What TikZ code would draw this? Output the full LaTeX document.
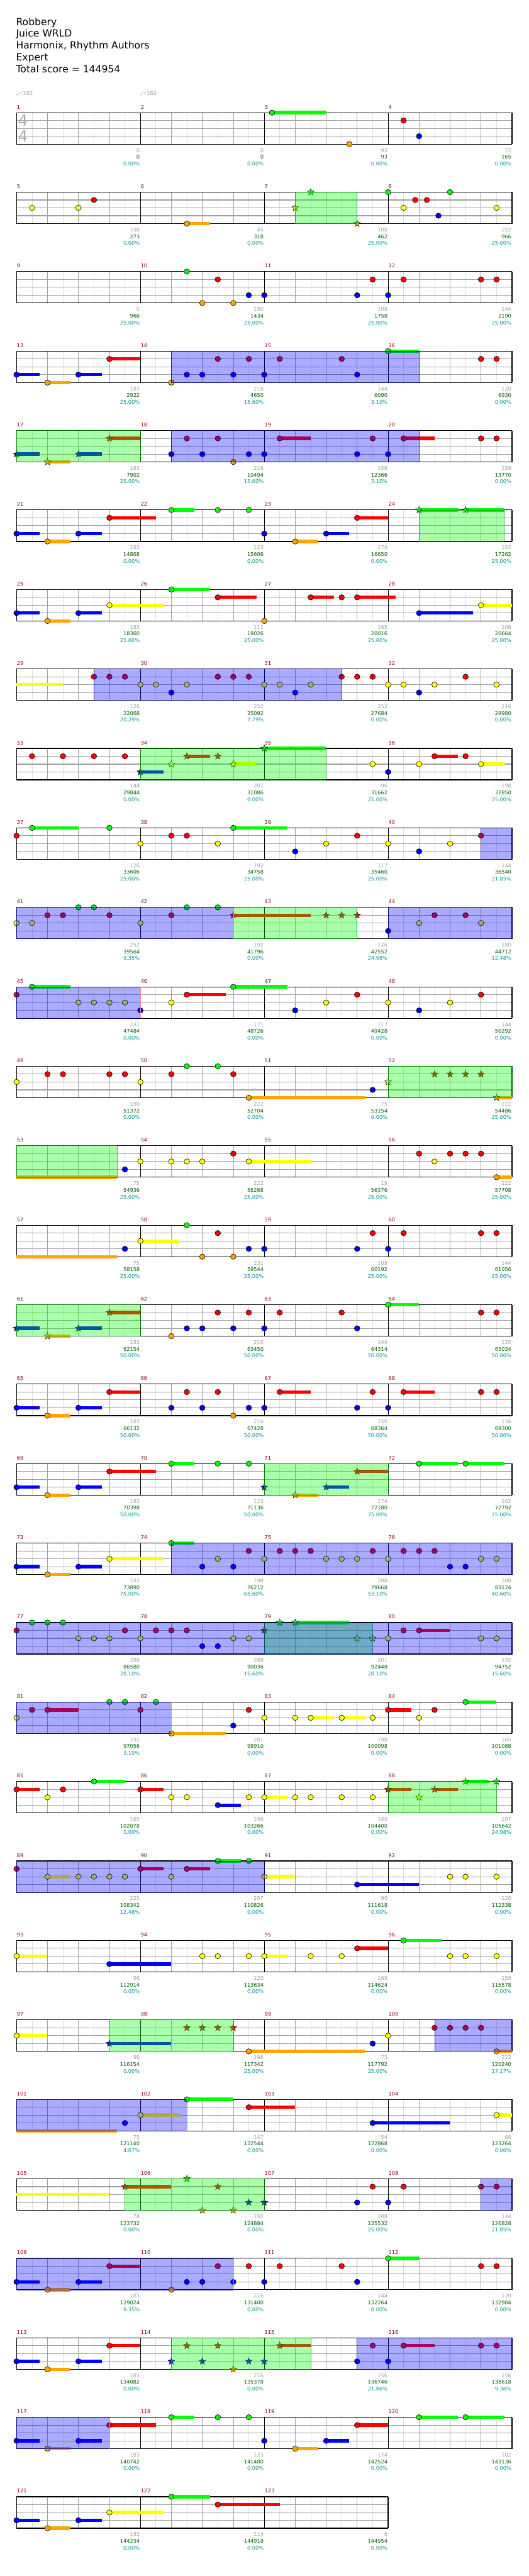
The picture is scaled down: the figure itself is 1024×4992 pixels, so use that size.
\documentclass[tikz,border=0pt]{standalone}
\usepackage{fontspec}
\setmainfont{DejaVu Sans}
\usetikzlibrary{shapes.geometric}
\definecolor{cG}{RGB}{0,255,0}
\definecolor{cR}{RGB}{255,0,0}
\definecolor{cY}{RGB}{255,255,0}
\definecolor{cB}{RGB}{0,0,255}
\definecolor{cO}{RGB}{255,165,0}
\definecolor{mred}{RGB}{139,0,0}
\definecolor{cgray}{RGB}{160,160,160}
\definecolor{cgreen}{RGB}{0,100,0}
\definecolor{cteal}{RGB}{0,150,150}
\definecolor{ltgray}{RGB}{222,222,222}
\definecolor{midgray}{RGB}{160,160,160}
\definecolor{tsgray}{RGB}{170,170,170}
\definecolor{gborder}{RGB}{0,150,0}
\definecolor{bborder}{RGB}{0,0,120}
\definecolor{pinkc}{RGB}{255,140,140}
\tikzset{
 notest/.style={draw=black,line width=0.7pt},
 starst/.style={star,star points=5,star point ratio=2.4,minimum size=14pt,inner sep=0pt,draw=black,line width=0.5pt},
 eline/.style={draw=ltgray,line width=0.8pt},
 qline/.style={draw=midgray,line width=0.9pt},
 lline/.style={draw=midgray,line width=1.3pt},
 mline/.style={draw=black,line width=0.8pt},
 fline/.style={draw=black,line width=1.4pt},
 greg/.style={fill=cG,fill opacity=0.3333,draw=gborder,draw opacity=0.7,line width=0.8pt},
 breg/.style={fill=cB,fill opacity=0.3333,draw=bborder,draw opacity=0.7,line width=0.8pt},
 pinkl/.style={draw=pinkc,line width=0.8pt},
 lab/.style={anchor=base east,inner sep=0pt,font=\fontsize{10}{12}\selectfont},
 mnum/.style={anchor=base west,inner sep=0pt,font=\fontsize{10}{12}\selectfont,text=mred},
 ttl/.style={anchor=base west,inner sep=0pt,font=\fontsize{19}{23}\selectfont},
 tempo/.style={anchor=base west,inner sep=0pt,text=cgray,font=\fontsize{10}{12}\selectfont},
 tsig/.style={inner sep=0pt,text=tsgray,font=\fontsize{30}{30}\selectfont},
}
\newcommand\NoteA[3]{\filldraw[notest,fill=#3] (#1,#2) ellipse[x radius=5.4pt,y radius=5.2pt];}
\newcommand\BarA[4]{\fill[#4] ([yshift=3.25pt]#1,#3) rectangle ([yshift=-3.25pt]#2,#3);}
\newcommand\StarA[3]{\node[starst,fill=#3] at (#1,#2) {};}
\newcommand\MkLane[3]{%
 \expandafter\newcommand\csname #1n\endcsname[1]{\NoteA{##1}{#2}{#3}}%
 \expandafter\newcommand\csname #1s\endcsname[2]{\BarA{##1}{##2}{#2}{#3}\NoteA{##1}{#2}{#3}}%
 \expandafter\newcommand\csname #1t\endcsname[1]{\StarA{##1}{#2}{#3}}%
 \expandafter\newcommand\csname #1u\endcsname[2]{\BarA{##1}{##2}{#2}{#3}\StarA{##1}{#2}{#3}}%
 \expandafter\newcommand\csname #1c\endcsname[2]{\BarA{##1}{##2}{#2}{#3}}%
}
\MkLane{G}{0}{cG}
\MkLane{R}{1}{cR}
\MkLane{Y}{2}{cY}
\MkLane{B}{3}{cB}
\MkLane{O}{4}{cO}
\newcommand\GR[2]{\filldraw[greg] (#1,0) rectangle (#2,4);}
\newcommand\BR[2]{\filldraw[breg] (#1,0) rectangle (#2,4);}
\newcommand\PK[1]{\draw[pinkl] (#1,0)--(#1,4);}
\newcommand\RowBegin[3]{%
 \pgfmathsetmacro\rowT{-218.3-154*(#1-1)}%
 \begin{scope}[shift={(32pt,\rowT pt)},x=30pt,y=-15.25pt]
 \pgfmathtruncatemacro\NE{8*#2}%
 \pgfmathtruncatemacro\NEm{8*#2-1}%
 \pgfmathtruncatemacro\NM{#2-1}%
 \foreach \i in {1,3,...,\NEm} \draw[eline] (\i,0)--(\i,4);
 \foreach \i in {2,4,...,\NE} \draw[qline] (\i,0)--(\i,4);
 \foreach \l in {1,2,3} \draw[lline] (0,\l)--(\NE,\l);
 \foreach \i in {0,8,...,\NE} \draw[mline] (\i,0)--(\i,4);
 \draw[fline] (0,0)--(\NE,0) (0,4)--(\NE,4) (0,0)--(0,4) (\NE,0)--(\NE,4);
 \foreach \j in {0,...,\NM} {\pgfmathtruncatemacro\mm{#3+\j}\node[mnum] at ([xshift=0.5pt,yshift=7.3pt]{8*\j},0) {\mm};}
}
\newcommand\RowEnd{\end{scope}}
\newcommand\Lb[4]{%
 \node[lab,text=cgray] at ([xshift=-1pt,yshift=-76.7pt]{8*#1},0) {#2};
 \node[lab,text=cgreen] at ([xshift=-1pt,yshift=-89.7pt]{8*#1},0) {#3};
 \node[lab,text=cteal] at ([xshift=-1pt,yshift=-102.7pt]{8*#1},0) {#4};}
\begin{document}
\begin{tikzpicture}
\path[use as bounding box] (0pt,0pt) rectangle (1024pt,-4992pt);
\node[ttl] (t1) at (31pt,-49pt) {Robbery};
\node[ttl] (t2) at (31pt,-71.9pt) {Juice WRLD};
\node[ttl] (t3) at (31pt,-94.8pt) {Harmonix, Rhythm Authors};
\node[ttl] (t4) at (31pt,-117.7pt) {Expert};
\node[ttl] (t5) at (31pt,-140.6pt) {Total score = 144954};
\node[tempo] (tp1) at (31pt,-184.7pt) {♩=160};
\node[tempo] (tp2) at (271pt,-184.7pt) {♩=160};
% row 1
\RowBegin{1}{4}{1}
\node[tsig] (ts1) at ([xshift=12.4pt,yshift=-15.5pt]0,0) {4};
\node[tsig] (ts2) at ([xshift=12.4pt,yshift=-45.5pt]0,0) {4};
\Gs{16.5}{20} \On{21.5} \Rn{25} \Bn{26}
\Lb{1}{0}{0}{0.00\%}\Lb{2}{0}{0}{0.00\%}\Lb{3}{93}{93}{0.00\%}\Lb{4}{72}{165}{0.00\%}
\RowEnd
% row 2
\RowBegin{2}{4}{5}
\Yn{1} \Yn{4} \Rn{5} \Os{11}{12.5}
\Yt{18} \Gt{19} \Ot{22}
\Gn{24} \Yn{25} \Rn{25.75} \Rn{26.5} \Bn{27.25} \Gn{28} \Yn{31}
\GR{18}{22}
\Lb{1}{108}{273}{0.00\%}\Lb{2}{45}{318}{0.00\%}\Lb{3}{108}{462}{25.00\%}\Lb{4}{252}{966}{25.00\%}
\RowEnd
% row 3
\RowBegin{3}{4}{9}
\Gn{11} \On{12} \Rn{13} \On{14} \Bn{15} \Bn{16} \Bn{22} \Rn{23} \Bn{24} \Rn{25} \Rn{30} \Rn{31}
\Lb{1}{0}{966}{25.00\%}\Lb{2}{180}{1434}{25.00\%}\Lb{3}{108}{1758}{25.00\%}\Lb{4}{144}{2190}{25.00\%}
\RowEnd
% row 4
\RowBegin{4}{4}{13}
\Bs{0}{1.5} \Os{2}{3.5} \Bs{4}{5.5} \Rs{6}{8}
\On{10} \Bn{11} \Bn{12} \Rn{13} \Bn{14} \Rn{15} \Bn{16} \Rn{17} \Rn{21} \Bn{22} \Gs{24}{26} \Rn{30} \Rn{31}
\BR{10}{26}
\Lb{1}{183}{2922}{25.00\%}\Lb{2}{216}{4650}{15.60\%}\Lb{3}{144}{6090}{3.10\%}\Lb{4}{120}{6930}{0.00\%}
\RowEnd
% row 5
\RowBegin{5}{4}{17}
\Bu{0}{1.5} \Ou{2}{3.5} \Bu{4}{5.5} \Ru{6}{8}
\Bn{10} \Rn{11} \Bn{12} \Rn{13} \On{14} \Bn{15} \Bn{16} \Rs{17}{19} \Bn{22} \Rn{23} \Bn{24} \Rs{25}{27} \Rn{30} \Rn{31}
\GR{0}{8} \BR{10}{26}
\Lb{1}{183}{7902}{25.00\%}\Lb{2}{216}{10494}{15.60\%}\Lb{3}{156}{12366}{3.10\%}\Lb{4}{156}{13770}{0.00\%}
\RowEnd
% row 6
\RowBegin{6}{4}{21}
\Bs{0}{1.5} \Os{2}{3.5} \Bs{4}{5.5} \Rs{6}{9}
\Gs{10}{11.5} \Gn{13} \Gn{15} \Bn{16} \Os{18}{19.5} \Bs{20}{21.5} \Rs{22}{24}
\Gu{26}{28.5} \Gu{29}{31.5}
\GR{26}{31.5}
\Lb{1}{183}{14868}{0.00\%}\Lb{2}{123}{15606}{0.00\%}\Lb{3}{174}{16650}{0.00\%}\Lb{4}{102}{17262}{25.00\%}
\RowEnd
% row 7
\RowBegin{7}{4}{25}
\Bs{0}{1.5} \Os{2}{3.5} \Bs{4}{5.5} \Ys{6}{9.5}
\Gs{10}{12.5} \Rs{13}{15.5} \On{16} \Rs{19}{20.5} \Rn{21} \Rs{22}{24.5} \Bs{26}{29.5} \Ys{30}{32}
\Lb{1}{183}{18360}{25.00\%}\Lb{2}{111}{19026}{25.00\%}\Lb{3}{165}{20016}{25.00\%}\Lb{4}{108}{20664}{25.00\%}
\RowEnd
% row 8
\RowBegin{8}{4}{29}
\Yc{0}{3}
\Rn{5} \Rn{6} \Rn{7} \Yn{8} \Yn{9} \Bn{10} \Yn{11} \Rn{13} \Rn{14} \Rn{15} \Yn{16} \Yn{17} \Bn{18} \Yn{19} \Rn{21} \Rn{22} \Rn{23} \Yn{24} \Yn{25} \Bn{26} \Yn{27} \Rn{29} \Yn{31}
\BR{5}{21}
\Lb{1}{126}{22068}{20.29\%}\Lb{2}{252}{25092}{7.79\%}\Lb{3}{252}{27684}{0.00\%}\Lb{4}{216}{28980}{0.00\%}
\RowEnd
% row 9
\RowBegin{9}{4}{33}
\Rn{1} \Rn{3} \Rn{5} \Rn{7}
\Bu{8}{9.5} \Yt{10} \Ru{11}{12.5} \Rt{13} \Yu{14}{15.5} \Gu{16}{20}
\Yn{23} \Bn{24} \Yn{26} \Rs{27}{28.5} \Rn{29} \Ys{30}{31.5}
\GR{8}{20}
\Lb{1}{144}{29844}{0.00\%}\Lb{2}{207}{31086}{0.00\%}\Lb{3}{96}{31662}{25.00\%}\Lb{4}{198}{32850}{25.00\%}
\RowEnd
% row 10
\RowBegin{10}{4}{37}
\Rn{0} \Gs{1}{4} \Gn{6} \Yn{8} \Rn{10} \Rn{11} \Yn{13} \Gs{14}{17.5} \Bn{18} \Yn{20} \Rn{22} \Yn{24} \Bn{26} \Yn{28} \Rn{30}
\BR{30}{32}
\Lb{1}{126}{33606}{25.00\%}\Lb{2}{192}{34758}{25.00\%}\Lb{3}{117}{35460}{25.00\%}\Lb{4}{144}{36540}{21.85\%}
\RowEnd
% row 11
\RowBegin{11}{4}{41}
\Yn{0} \Yn{1} \Rn{2} \Rn{3} \Gn{4} \Gn{5} \Rn{6} \Yn{8} \Rn{10} \Gn{11} \Gn{13}
\Ru{14}{19} \Rt{20} \Rt{21} \Rt{22}
\Bn{24} \Yn{26} \Rn{27} \Rn{29} \Yn{30}
\GR{14}{22} \BR{0}{14} \BR{24}{32} \PK{14}
\Lb{1}{252}{39564}{9.35\%}\Lb{2}{192}{41796}{0.00\%}\Lb{3}{126}{42552}{24.98\%}\Lb{4}{180}{44712}{12.48\%}
\RowEnd
% row 12
\RowBegin{12}{4}{45}
\Rn{0} \Gs{1}{3.5} \Yn{4} \Yn{5} \Yn{6} \Yn{7} \Bn{8}
\Yn{10} \Rs{11}{13.5} \Gs{14}{17.5} \Bn{18} \Yn{20} \Rn{22} \Yn{24} \Bn{26} \Yn{28} \Rn{30}
\BR{0}{8} \PK{8}
\Lb{1}{231}{47484}{0.00\%}\Lb{2}{171}{48726}{0.00\%}\Lb{3}{117}{49428}{0.00\%}\Lb{4}{144}{50292}{0.00\%}
\RowEnd
% row 13
\RowBegin{13}{4}{49}
\Yn{0} \Rn{2} \Rn{3} \Rn{6} \Rn{7} \Yn{8} \Rn{10} \Gn{11} \Gn{13} \Rn{14} \Os{15}{22.5} \Bn{23}
\Yt{24} \Rt{27} \Rt{28} \Rt{29} \Rt{30} \Ou{31}{32}
\GR{24}{32}
\Lb{1}{180}{51372}{0.00\%}\Lb{2}{222}{52704}{0.00\%}\Lb{3}{75}{53154}{0.00\%}\Lb{4}{222}{54486}{25.00\%}
\RowEnd
% row 14
\RowBegin{14}{4}{53}
\Oc{0}{6.5} \Bn{7} \Yn{8} \Yn{10} \Yn{11} \Yn{12} \Rn{14} \Ys{15}{19} \Rn{26} \Yn{27} \Rn{28} \Rn{29} \Rn{30} \Os{31}{32}
\GR{0}{6.5}
\Lb{1}{75}{54936}{25.00\%}\Lb{2}{222}{56268}{25.00\%}\Lb{3}{18}{56376}{25.00\%}\Lb{4}{222}{57708}{25.00\%}
\RowEnd
% row 15
\RowBegin{15}{4}{57}
\Oc{0}{6.5} \Bn{7} \Ys{8}{10.5} \Gn{11} \On{12} \Rn{13} \On{14} \Bn{15} \Bn{16} \Bn{22} \Rn{23} \Bn{24} \Rn{25} \Rn{30} \Rn{31}
\Lb{1}{75}{58158}{25.00\%}\Lb{2}{231}{59544}{25.00\%}\Lb{3}{108}{60192}{25.00\%}\Lb{4}{144}{61056}{25.00\%}
\RowEnd
% row 16
\RowBegin{16}{4}{61}
\Bu{0}{1.5} \Ou{2}{3.5} \Bu{4}{5.5} \Ru{6}{8}
\On{10} \Bn{11} \Bn{12} \Rn{13} \Bn{14} \Rn{15} \Bn{16} \Rn{17} \Rn{21} \Bn{22} \Gs{24}{26} \Rn{30} \Rn{31}
\GR{0}{8}
\Lb{1}{183}{62154}{50.00\%}\Lb{2}{216}{63450}{50.00\%}\Lb{3}{144}{64314}{50.00\%}\Lb{4}{120}{65034}{50.00\%}
\RowEnd
% row 17
\RowBegin{17}{4}{65}
\Bs{0}{1.5} \Os{2}{3.5} \Bs{4}{5.5} \Rs{6}{8}
\Bn{10} \Rn{11} \Bn{12} \Rn{13} \On{14} \Bn{15} \Bn{16} \Rs{17}{19} \Bn{22} \Rn{23} \Bn{24} \Rs{25}{27} \Rn{30} \Rn{31}
\Lb{1}{183}{66132}{50.00\%}\Lb{2}{216}{67428}{50.00\%}\Lb{3}{156}{68364}{50.00\%}\Lb{4}{156}{69300}{50.00\%}
\RowEnd
% row 18
\RowBegin{18}{4}{69}
\Bs{0}{1.5} \Os{2}{3.5} \Bs{4}{5.5} \Rs{6}{9}
\Gs{10}{11.5} \Gn{13} \Gn{15} \Bt{16} \Ou{18}{19.5} \Bu{20}{21.5} \Ru{22}{24}
\Gs{26}{28.5} \Gs{29}{31.5}
\GR{16}{24}
\Lb{1}{183}{70398}{50.00\%}\Lb{2}{123}{71136}{50.00\%}\Lb{3}{174}{72180}{75.00\%}\Lb{4}{102}{72792}{75.00\%}
\RowEnd
% row 19
\RowBegin{19}{4}{73}
\Bs{0}{1.5} \Os{2}{3.5} \Bs{4}{5.5} \Ys{6}{9.5}
\Gs{10}{11.5} \Bn{12} \Yn{13} \Bn{14} \Rn{15} \Yn{16} \Rn{17} \Rn{18} \Rn{19} \Yn{20} \Yn{21} \Yn{22} \Rn{23} \Yn{24} \Rn{25} \Rn{26} \Rn{27} \Bn{28} \Bn{29} \Yn{30} \Yn{31}
\BR{10}{32}
\Lb{1}{183}{73890}{75.00\%}\Lb{2}{198}{76212}{65.60\%}\Lb{3}{288}{79668}{53.10\%}\Lb{4}{288}{83124}{40.60\%}
\RowEnd
% row 20
\RowBegin{20}{4}{77}
\Rn{0} \Gn{1} \Gn{2} \Gn{3} \Yn{4} \Yn{5} \Yn{6} \Rn{7} \Yn{8} \Rn{9} \Rn{10} \Rn{11} \Bn{12} \Bn{13} \Yn{14} \Yn{15}
\Rt{16} \Gt{17} \Gu{18}{21.5} \Yt{22} \Yt{23}
\Yn{24} \Rn{25} \Rs{26}{28} \Yn{30} \Yn{31}
\GR{16}{23} \BR{0}{32}
\Lb{1}{288}{86580}{28.10\%}\Lb{2}{288}{90036}{15.60\%}\Lb{3}{201}{92448}{28.10\%}\Lb{4}{192}{94752}{15.60\%}
\RowEnd
% row 21
\RowBegin{21}{4}{81}
\Yn{0} \Rn{1} \Rs{2}{4} \Gn{6} \Gn{7} \Rn{8} \Gn{9} \Os{10}{13.5} \Bn{14} \Rn{15} \Yn{16} \Yn{18} \Ys{19}{20.5} \Ys{21}{22.5} \Yn{23} \Rs{24}{25.5} \Yn{26} \Rn{27} \Gs{29}{31}
\BR{0}{10} \PK{10}
\Lb{1}{192}{97056}{3.10\%}\Lb{2}{201}{98910}{0.00\%}\Lb{3}{198}{100098}{0.00\%}\Lb{4}{165}{101088}{0.00\%}
\RowEnd
% row 22
\RowBegin{22}{4}{85}
\Rs{0}{1.5} \Yn{2} \Rn{3} \Gs{5}{7} \Rs{8}{9.5} \Yn{10} \Yn{11} \Bs{13}{14.5} \Yn{15} \Ys{16}{17.5} \Yn{18} \Yn{19} \Yn{21} \Yn{23}
\Ru{24}{25.5} \Yt{26} \Ru{27}{28.5} \Gu{29}{30.5} \Gt{31}
\GR{24}{31}
\Lb{1}{165}{102078}{0.00\%}\Lb{2}{198}{103266}{0.00\%}\Lb{3}{189}{104400}{0.00\%}\Lb{4}{207}{105642}{24.98\%}
\RowEnd
% row 23
\RowBegin{23}{4}{89}
\Rn{0} \Ys{2}{3.5} \Yn{4} \Yn{5} \Yn{6} \Yn{7} \Rs{8}{9.5} \Yn{10} \Rs{11}{12.5} \Gs{13}{14.5} \Gn{15} \Ys{16}{18} \Bs{22}{26} \Yn{28} \Yn{29} \Yn{31}
\BR{0}{16}
\Lb{1}{225}{108342}{12.48\%}\Lb{2}{207}{110826}{0.00\%}\Lb{3}{96}{111618}{0.00\%}\Lb{4}{120}{112338}{0.00\%}
\RowEnd
% row 24
\RowBegin{24}{4}{93}
\Ys{0}{2} \Bs{6}{10} \Yn{12} \Yn{13} \Yn{15} \Ys{16}{17.5} \Yn{19} \Yn{21} \Rs{22}{24} \Gs{25}{27.5} \Yn{28} \Yn{29} \Yn{31}
\Lb{1}{96}{112914}{0.00\%}\Lb{2}{120}{113634}{0.00\%}\Lb{3}{165}{114624}{0.00\%}\Lb{4}{159}{115578}{0.00\%}
\RowEnd
% row 25
\RowBegin{25}{4}{97}
\Ys{0}{2} \Bu{6}{10} \Rt{11} \Rt{12} \Rt{13} \Rt{14} \Os{15}{22.5} \Bn{23} \Yn{24} \Rn{27} \Rn{28} \Rn{29} \Rn{30} \Os{31}{32}
\GR{6}{14} \BR{27}{32}
\Lb{1}{96}{116154}{0.00\%}\Lb{2}{198}{117342}{25.00\%}\Lb{3}{75}{117792}{25.00\%}\Lb{4}{222}{120240}{17.17\%}
\RowEnd
% row 26
\RowBegin{26}{4}{101}
\Oc{0}{6.5} \Bn{7} \Ys{8}{10.5} \Gs{11}{14} \Rs{15}{18} \Bs{23}{28} \Ys{31}{32}
\BR{0}{11} \PK{11}
\Lb{1}{75}{121140}{4.67\%}\Lb{2}{147}{122544}{0.00\%}\Lb{3}{54}{122868}{0.00\%}\Lb{4}{66}{123264}{0.00\%}
\RowEnd
% row 27
\RowBegin{27}{4}{105}
\Yc{0}{6} \Ru{7}{10} \Gt{11} \Ot{12} \Rt{13} \Ot{14} \Bt{15} \Bt{16} \Bn{22} \Rn{23} \Bn{24} \Rn{25} \Rn{30} \Rn{31}
\GR{7}{16} \BR{30}{32}
\Lb{1}{78}{123732}{0.00\%}\Lb{2}{192}{124884}{0.00\%}\Lb{3}{108}{125532}{25.00\%}\Lb{4}{144}{126828}{21.85\%}
\RowEnd
% row 28
\RowBegin{28}{4}{109}
\Bs{0}{1.5} \Os{2}{3.5} \Bs{4}{5.5} \Rs{6}{8}
\On{10} \Bn{11} \Bn{12} \Rn{13} \Bn{14} \Rn{15} \Bn{16} \Rn{17} \Rn{21} \Bn{22} \Gs{24}{26} \Rn{30} \Rn{31}
\BR{0}{14} \PK{14}
\Lb{1}{183}{129024}{9.35\%}\Lb{2}{216}{131400}{0.00\%}\Lb{3}{144}{132264}{0.00\%}\Lb{4}{120}{132984}{0.00\%}
\RowEnd
% row 29
\RowBegin{29}{4}{113}
\Bs{0}{1.5} \Os{2}{3.5} \Bs{4}{5.5} \Rs{6}{8}
\Bt{10} \Rt{11} \Bt{12} \Rt{13} \Ot{14} \Bt{15} \Bt{16} \Ru{17}{19}
\Bn{22} \Rn{23} \Bn{24} \Rs{25}{27} \Rn{30} \Rn{31}
\GR{10}{19} \BR{22}{32}
\Lb{1}{183}{134082}{0.00\%}\Lb{2}{216}{135378}{0.00\%}\Lb{3}{156}{136746}{21.86\%}\Lb{4}{156}{138618}{9.36\%}
\RowEnd
% row 30
\RowBegin{30}{4}{117}
\Bs{0}{1.5} \Os{2}{3.5} \Bs{4}{5.5} \Rs{6}{9}
\Gs{10}{11.5} \Gn{13} \Gn{15} \Bn{16} \Os{18}{19.5} \Bs{20}{21.5} \Rs{22}{24} \Gs{26}{28.5} \Gs{29}{31.5}
\BR{0}{6} \PK{6}
\Lb{1}{183}{140742}{0.00\%}\Lb{2}{123}{141480}{0.00\%}\Lb{3}{174}{142524}{0.00\%}\Lb{4}{102}{143136}{0.00\%}
\RowEnd
% row 31
\RowBegin{31}{3}{121}
\Bs{0}{1.5} \Os{2}{3.5} \Bs{4}{5.5} \Ys{6}{9.5} \Gs{10}{12.5} \Rs{13}{17}
\Lb{1}{183}{144234}{0.00\%}\Lb{2}{114}{144918}{0.00\%}\Lb{3}{6}{144954}{0.00\%}
\RowEnd
\end{tikzpicture}
\end{document}
